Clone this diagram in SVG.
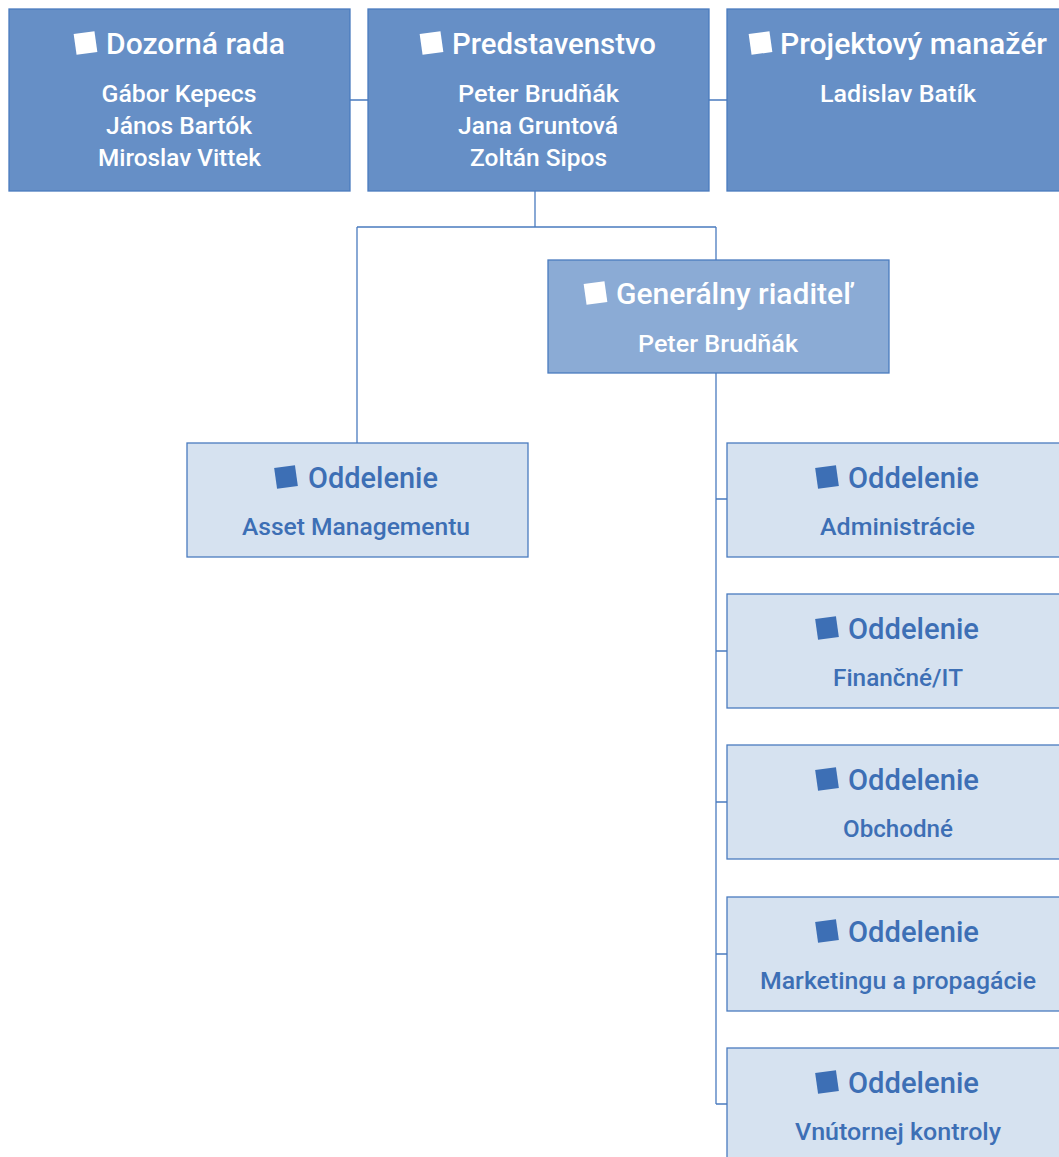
<svg xmlns="http://www.w3.org/2000/svg" xmlns:xlink="http://www.w3.org/1999/xlink" width="1059" height="1157" viewBox="0 0 1059 1157">
<style>
.top{fill:#668fc6;stroke:#4a7bbf;stroke-width:1.3}
.mid{fill:#8babd5;stroke:#4a7bbf;stroke-width:1.3}
.dep{fill:#d6e2f0;stroke:#4a7bbf;stroke-width:1.3}
.t{font-family:Roboto,"Open Sans","Liberation Sans",sans-serif;font-weight:500;text-anchor:middle}
.w{fill:#ffffff}
.b{fill:#3d6fb5}
.h{font-size:29px}
.n{font-size:24px}
.ln{fill:none;stroke:#4a7bbf;stroke-width:1.3}
.iw{fill:#ffffff}
.ib{fill:#3d6fb5}
</style>
<defs>
<rect id="ic" x="-10.5" y="-10.5" width="21" height="21" transform="rotate(-8)"/>
</defs>
<g id="connectors">
<path class="ln" d="M350 100H368M709 100H727"/>
<path class="ln" d="M535 191V227M357 227H716M357 227V443M716 227V260"/>
<path class="ln" d="M716 373V1104M716 499H727M716 651H727M716 802H727M716 954H727M716 1104H727"/>
</g>
<g id="dozorna">
<rect class="top" x="9" y="9" width="341" height="182"/>
<use xlink:href="#ic" class="iw" x="85.5" y="43"/>
<text class="t w h" x="195.5" y="54" textLength="179" lengthAdjust="spacingAndGlyphs">Dozorná rada</text>
<text class="t w n" x="179" y="102" textLength="155" lengthAdjust="spacingAndGlyphs">Gábor Kepecs</text>
<text class="t w n" x="179" y="134" textLength="146" lengthAdjust="spacingAndGlyphs">János Bartók</text>
<text class="t w n" x="179.5" y="166" textLength="163" lengthAdjust="spacingAndGlyphs">Miroslav Vittek</text>
</g>
<g id="predstavenstvo">
<rect class="top" x="368" y="9" width="341" height="182"/>
<use xlink:href="#ic" class="iw" x="431.5" y="43"/>
<text class="t w h" x="554" y="54" textLength="204" lengthAdjust="spacingAndGlyphs">Predstavenstvo</text>
<text class="t w n" x="538.5" y="102" textLength="161" lengthAdjust="spacingAndGlyphs">Peter Brudňák</text>
<text class="t w n" x="538" y="134" textLength="160" lengthAdjust="spacingAndGlyphs">Jana Gruntová</text>
<text class="t w n" x="538.5" y="166" textLength="137" lengthAdjust="spacingAndGlyphs">Zoltán Sipos</text>
</g>
<g id="projektovy">
<rect class="top" x="727" y="9" width="341" height="182"/>
<use xlink:href="#ic" class="iw" x="760.5" y="43"/>
<text class="t w h" x="913.5" y="54" textLength="267" lengthAdjust="spacingAndGlyphs">Projektový manažér</text>
<text class="t w n" x="898" y="102" textLength="156" lengthAdjust="spacingAndGlyphs">Ladislav Batík</text>
</g>
<g id="generalny">
<rect class="mid" x="548" y="260" width="341" height="113"/>
<use xlink:href="#ic" class="iw" x="595.5" y="293"/>
<text class="t w h" x="734.5" y="304" textLength="237" lengthAdjust="spacingAndGlyphs">Generálny riaditeľ</text>
<text class="t w n" x="718" y="352" textLength="160" lengthAdjust="spacingAndGlyphs">Peter Brudňák</text>
</g>
<g id="asset">
<rect class="dep" x="187" y="443" width="341" height="114"/>
<use xlink:href="#ic" class="ib" x="286" y="477"/>
<text class="t b h" x="373" y="488" textLength="130" lengthAdjust="spacingAndGlyphs">Oddelenie</text>
<text class="t b n" x="356" y="535" textLength="228" lengthAdjust="spacingAndGlyphs">Asset Managementu</text>
</g>
<g id="administracie">
<rect class="dep" x="727" y="443" width="341" height="114"/>
<use xlink:href="#ic" class="ib" x="827" y="477"/>
<text class="t b h" x="913.5" y="488" textLength="131" lengthAdjust="spacingAndGlyphs">Oddelenie</text>
<text class="t b n" x="897.5" y="535" textLength="155" lengthAdjust="spacingAndGlyphs">Administrácie</text>
</g>
<g id="financne">
<rect class="dep" x="727" y="594" width="341" height="114"/>
<use xlink:href="#ic" class="ib" x="827" y="628"/>
<text class="t b h" x="913.5" y="639" textLength="131" lengthAdjust="spacingAndGlyphs">Oddelenie</text>
<text class="t b n" x="898" y="686" textLength="130" lengthAdjust="spacingAndGlyphs">Finančné/IT</text>
</g>
<g id="obchodne">
<rect class="dep" x="727" y="745" width="341" height="114"/>
<use xlink:href="#ic" class="ib" x="827" y="779"/>
<text class="t b h" x="913.5" y="790" textLength="131" lengthAdjust="spacingAndGlyphs">Oddelenie</text>
<text class="t b n" x="898" y="837" textLength="110" lengthAdjust="spacingAndGlyphs">Obchodné</text>
</g>
<g id="marketing">
<rect class="dep" x="727" y="897" width="341" height="114"/>
<use xlink:href="#ic" class="ib" x="827" y="931"/>
<text class="t b h" x="913.5" y="942" textLength="131" lengthAdjust="spacingAndGlyphs">Oddelenie</text>
<text class="t b n" x="898" y="989" textLength="276" lengthAdjust="spacingAndGlyphs">Marketingu a propagácie</text>
</g>
<g id="vnutornej">
<rect class="dep" x="727" y="1048" width="341" height="114"/>
<use xlink:href="#ic" class="ib" x="827" y="1082"/>
<text class="t b h" x="913.5" y="1093" textLength="131" lengthAdjust="spacingAndGlyphs">Oddelenie</text>
<text class="t b n" x="898" y="1140" textLength="206" lengthAdjust="spacingAndGlyphs">Vnútornej kontroly</text>
</g>
</svg>
